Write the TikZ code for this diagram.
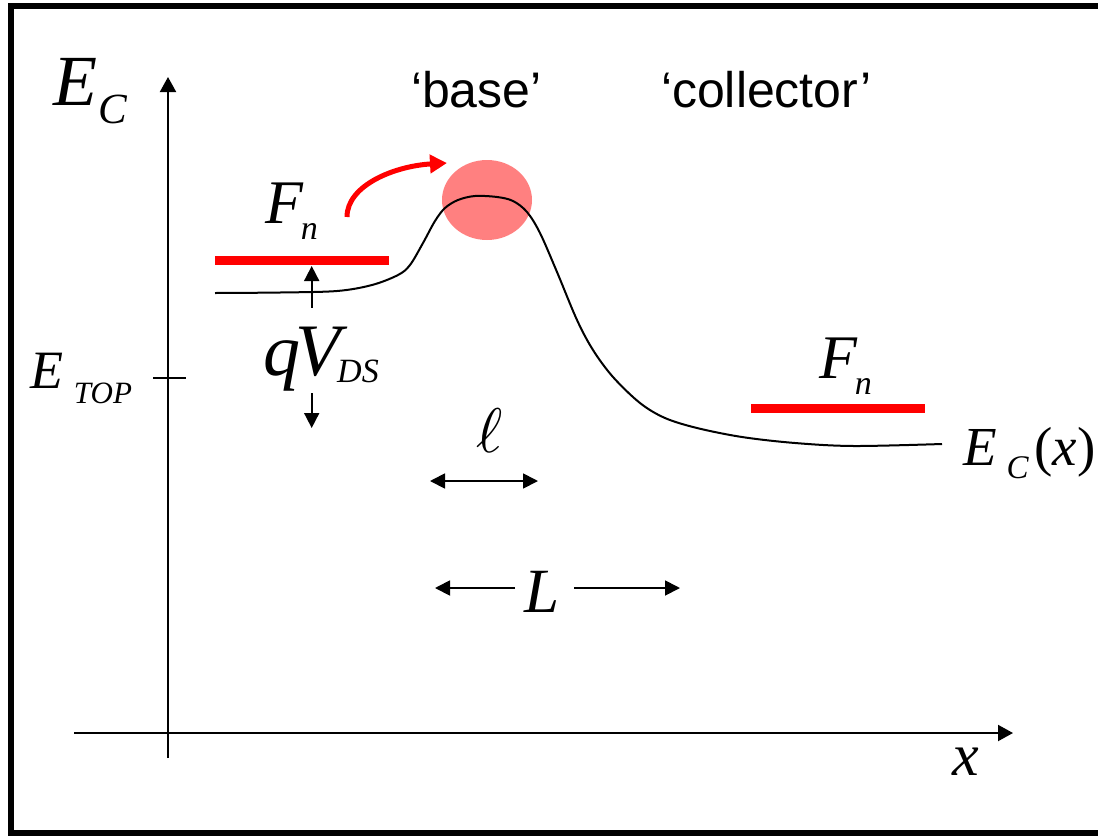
\documentclass[tikz,border=0pt]{standalone}
\usepackage{fontspec}
\setmainfont{Liberation Serif}
\newfontfamily\arialfont{Liberation Sans}
\usetikzlibrary{arrows.meta}
\definecolor{fnred}{RGB}{255,0,0}
\definecolor{blob}{RGB}{255,128,128}
\newcommand{\fsz}[1]{\fontsize{#1}{#1}\selectfont}
\begin{document}
\begin{tikzpicture}[x=1pt,y=-1pt,
  lbl/.style={anchor=base west,inner sep=0pt,outer sep=0pt},
  axisarrow/.style={line width=2pt,-{Triangle[length=15pt,width=16pt]}},
  dimarrow/.style={line width=1.8pt,-{Triangle[length=15pt,width=15pt]}},
  dimboth/.style={line width=1.8pt,{Triangle[length=15pt,width=15pt]}-{Triangle[length=15pt,width=15pt]}},
  fermi/.style={draw=fnred,line width=9pt},
  band/.style={line width=2pt},
  hop/.style={draw=fnred,line width=5pt,-{Triangle[length=17pt,width=18pt]}}]
\path[use as bounding box,clip] (0,0) rectangle (1098,836);
\fill[white] (0,0) rectangle (1098,836);
% frame
\draw[line width=5.5pt] (1110,6) -- (11,6) -- (11,833) -- (1110,833);
% coordinates
\coordinate (ytail) at (168,758); \coordinate (ytip) at (168,77);
\coordinate (xtail) at (74,733); \coordinate (xtip) at (1013,733);
\coordinate (tickl) at (153,378); \coordinate (tickr) at (186,378);
\coordinate (fl1) at (215,260.5); \coordinate (fl2) at (389,260.5);
\coordinate (fr1) at (751,408); \coordinate (fr2) at (925,408);
\coordinate (qu1) at (311.7,307.7); \coordinate (qu2) at (311.7,266);
\coordinate (qd1) at (311.7,393); \coordinate (qd2) at (311.7,428);
\coordinate (la) at (430,481); \coordinate (lb) at (538,481);
\coordinate (L1) at (515,588); \coordinate (L1t) at (435,588);
\coordinate (L2) at (574,588); \coordinate (L2t) at (680,588);
\coordinate (r1) at (347,217); \coordinate (r2) at (447,163);
\coordinate (top) at (487,200);
% blob
\fill[blob] (top) ellipse [x radius=45pt, y radius=40pt];
% axes
\draw[axisarrow] (ytail) -- (ytip);
\draw[axisarrow] (xtail) -- (xtip);
\draw[line width=2pt] (tickl) -- (tickr);
% band edge
\draw[band] plot[smooth,tension=0.55] coordinates {(215,293) (280,292.5) (337,291) (372,285) (398,275) (410,265) (423,243) (435,221) (445,208) (458,200) (475,196) (497,197) (513,201) (527,212) (540,233) (557,272) (577,320) (593,350) (613,377) (640,403) (665,418) (697,428) (742,437) (795,443) (854,446) (942,444)};
% quasi-Fermi levels
\draw[fermi] (fl1) -- (fl2);
\draw[fermi] (fr1) -- (fr2);
% hop arrow
\draw[hop] (r1) .. controls (347,185) and (395,166) .. (r2);
% dimension arrows
\draw[dimarrow] (qu1) -- (qu2);
\draw[dimarrow] (qd1) -- (qd2);
\draw[dimboth] (la) -- (lb);
\draw[dimarrow] (L1) -- (L1t);
\draw[dimarrow] (L2) -- (L2t);
% labels
\node[lbl] (eclab) at (53,105) {\itshape\fsz{72}E\kern2pt\raisebox{-18pt}{\fsz{43}C}};
\node[lbl] (etop) at (30,388) {\itshape\fsz{54}E\kern11pt\raisebox{-15pt}{\fsz{31}TOP}};
\node[lbl] (fnl) at (265,223) {\itshape\fsz{62}F\kern-2pt\raisebox{-16pt}{\fsz{34}n}};
\node[lbl] (fnr) at (819,378) {\itshape\fsz{62}F\kern-2pt\raisebox{-16pt}{\fsz{34}n}};
\node[lbl] (qv) at (263,375) {\itshape\fsz{74}q\kern-5pt V\kern-3pt\raisebox{-7pt}{\fsz{34}DS}};
\node[lbl] (ecx) at (963,465) {\itshape\fsz{55}E\kern10pt\raisebox{-13pt}{\fsz{33}C}\kern6pt{\upshape(}x{\upshape)}};
\node[lbl] (Llab) at (524,612) {\itshape\fsz{63}L};
\node[lbl] (xlab) at (952,775) {\itshape\fsz{60}x};
\node[lbl] (ell) at (476,452) {\scalebox{6.3}{$\ell$}};
\node[lbl] (base) at (411,107) {\arialfont\fsz{50}‘base’};
\node[lbl] (coll) at (661,107) {\arialfont\fsz{50}‘collector’};
\end{tikzpicture}
\end{document}
